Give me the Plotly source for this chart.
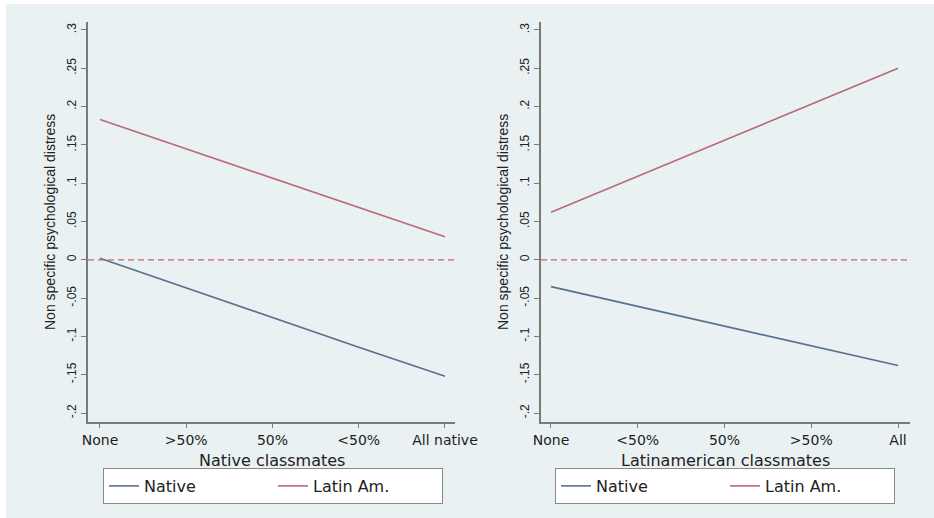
import plotly.graph_objects as go

# ---- data ----
categories_native = ["None", ">50%", "50%", "<50%", "All native"]
categories_latin = ["None", "<50%", "50%", ">50%", "All"]
left_native = [0.002, -0.037, -0.075, -0.114, -0.152]
left_latin = [0.183, 0.145, 0.107, 0.068, 0.030]
right_native = [-0.035, -0.061, -0.087, -0.113, -0.138]
right_latin = [0.062, 0.109, 0.156, 0.203, 0.250]
series_names = ["Native", "Latin Am."]
y_tick_values = [-0.2, -0.15, -0.1, -0.05, 0, 0.05, 0.1, 0.15, 0.2, 0.25, 0.3]
y_tick_labels = ["-.2", "-.15", "-.1", "-.05", "0", ".05", ".1", ".15", ".2", ".25", ".3"]
x_titles = ["Native classmates", "Latinamerican classmates"]
y_title = "Non specific psychological distress"

W, H = 934, 518
NATIVE_C = "#56708f"
LATIN_C = "#b86a76"
TXT = "#222222"
AX = "#7a7a7a"
BG = "#e9f1f3"

fig = go.Figure()
fig.add_trace(go.Scatter(x=categories_native, y=left_native, mode="lines", name=series_names[0],
                         line=dict(color=NATIVE_C, width=1.6), xaxis="x", yaxis="y", legend="legend"))
fig.add_trace(go.Scatter(x=categories_native, y=left_latin, mode="lines", name=series_names[1],
                         line=dict(color=LATIN_C, width=1.6), xaxis="x", yaxis="y", legend="legend"))
fig.add_trace(go.Scatter(x=categories_latin, y=right_native, mode="lines", name=series_names[0],
                         line=dict(color=NATIVE_C, width=1.6), xaxis="x2", yaxis="y2", legend="legend2"))
fig.add_trace(go.Scatter(x=categories_latin, y=right_latin, mode="lines", name=series_names[1],
                         line=dict(color=LATIN_C, width=1.6), xaxis="x2", yaxis="y2", legend="legend2"))

ydom = [1 - 422 / H, 1 - 22 / H]
yrange = [-0.2117, 0.3104]
xdom1 = [88 / W, 455 / W]
xdom2 = [541 / W, 910 / W]

def yax(anchor):
    return dict(domain=ydom, range=yrange, anchor=anchor, tickmode="array",
                tickvals=y_tick_values, ticktext=y_tick_labels, tickangle=-90,
                ticks="outside", ticklen=5, tickcolor=AX, tickwidth=1,
                showline=True, linecolor=AX, linewidth=1.5, showgrid=True,
                gridcolor="#eef3f5", gridwidth=1, zeroline=False, automargin=False,
                tickfont=dict(family="Liberation Sans", size=12, color=TXT),
                fixedrange=True)

def xax(anchor, dom, rng):
    return dict(domain=dom, range=rng, anchor=anchor, type="category",
                ticks="outside", ticklen=4, tickcolor=AX, tickwidth=1,
                showline=True, linecolor=AX, linewidth=1.5, showgrid=False, zeroline=False,
                automargin=False,
                tickfont=dict(family="DejaVu Sans", size=14, color=TXT),
                fixedrange=True)

legend_common = dict(orientation="h", xanchor="left", yanchor="top",
                     bgcolor="white", bordercolor="#888888", borderwidth=1,
                     font=dict(family="DejaVu Sans", size=16, color=TXT),
                     entrywidth=124, entrywidthmode="pixels", tracegroupgap=0)

title_font_x = dict(family="DejaVu Sans", size=16, color=TXT)
title_font_y = dict(family="Liberation Sans", size=14, color=TXT)
ymid = (ydom[0] + ydom[1]) / 2
annotations = [
    dict(text=x_titles[0], xref="paper", yref="paper", x=sum(xdom1) / 2, y=1 - 460 / H,
         xanchor="center", yanchor="middle", showarrow=False, font=title_font_x),
    dict(text=x_titles[1], xref="paper", yref="paper", x=sum(xdom2) / 2, y=1 - 460 / H,
         xanchor="center", yanchor="middle", showarrow=False, font=title_font_x),
    dict(text=y_title, xref="paper", yref="paper", x=50 / W, y=ymid, textangle=-90,
         xanchor="center", yanchor="middle", showarrow=False, font=title_font_y),
    dict(text=y_title, xref="paper", yref="paper", x=503 / W, y=ymid, textangle=-90,
         xanchor="center", yanchor="middle", showarrow=False, font=title_font_y),
]

fig.update_layout(
    width=W, height=H, margin=dict(l=0, r=0, t=0, b=0, autoexpand=False),
    paper_bgcolor="white", plot_bgcolor="white",
    xaxis=xax("y", xdom1, [-0.139, 4.116]),
    yaxis=yax("x"),
    xaxis2=xax("y2", xdom2, [-0.115, 4.138]),
    yaxis2=yax("x2"),
    legend=dict(x=103 / W, y=1 - 468 / H, **legend_common),
    legend2=dict(x=555 / W, y=1 - 468 / H, **legend_common),
    annotations=annotations,
    shapes=[
        dict(type="rect", xref="paper", yref="paper", x0=6 / W, x1=1, y0=0, y1=1 - 4 / H,
             fillcolor=BG, line=dict(width=0), layer="below"),
        dict(type="line", xref="x domain", yref="y", x0=0, x1=1, y0=0, y1=0,
             line=dict(color="#d0606e", width=1.2, dash="6px,4px")),
        dict(type="line", xref="x2 domain", yref="y2", x0=0, x1=1, y0=0, y1=0,
             line=dict(color="#d0606e", width=1.2, dash="6px,4px")),
    ],
)

fig.write_html("out.html", config={"displayModeBar": False},
               post_script="document.body.style.margin='0';document.body.style.overflow='hidden';")
